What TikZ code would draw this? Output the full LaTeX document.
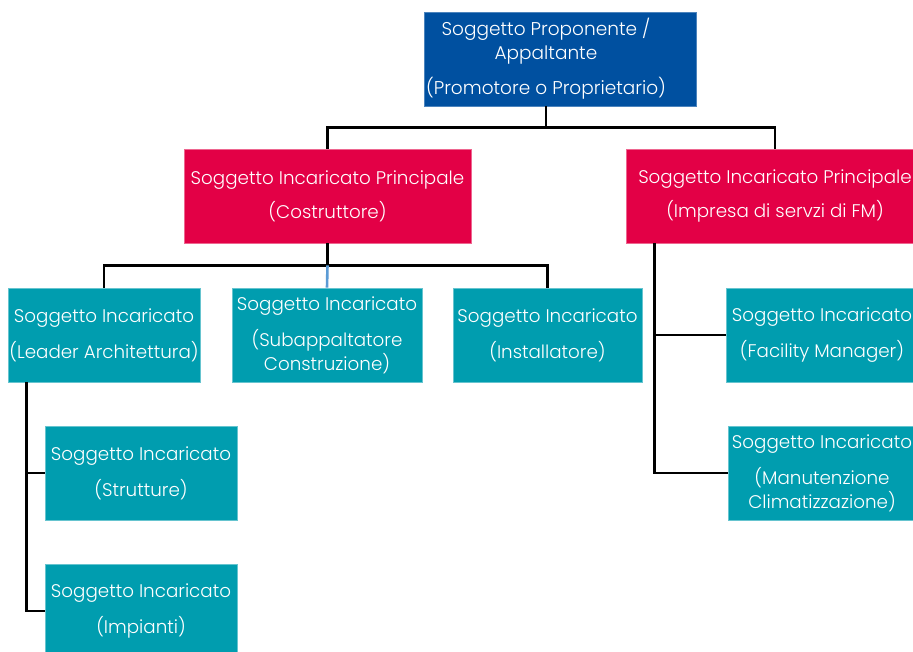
\documentclass[tikz,border=0pt]{standalone}
\usepackage{fontspec}
\setmainfont{Poppins}[UprightFont={* Light}]
\definecolor{topblue}{HTML}{0050A0}
\definecolor{mainred}{HTML}{E30046}
\definecolor{subteal}{HTML}{009DAF}
\definecolor{midblue}{HTML}{5B9BD5}
\begin{document}
\begin{tikzpicture}[x=1pt,y=-1pt,
  box/.style={rectangle, text=white, align=center, inner sep=0pt,
    font=\fontsize{18.3}{24}\selectfont, line width=0.6pt},
  topbox/.style={box, fill=topblue, draw=topblue!70!white, minimum width=272pt, minimum height=94pt},
  toptext/.style={box, font=\fontsize{18.5}{24}\selectfont},
  redbox/.style={box, fill=mainred, draw=mainred!60!white, minimum height=94pt},
  tealbox/.style={box, fill=subteal, draw=subteal!60!white, minimum width=192pt, minimum height=94pt},
  conn/.style={line width=2.6pt, black},
  connblue/.style={line width=2.6pt, midblue}]
\clip (0,0) rectangle (913,651);
\fill[white] (0,0) rectangle (913,651);

\node[topbox] (top) at (560,59) {};
\node[toptext] (toplabel) at (546,59) {Soggetto Proponente /\\Appaltante\\[11pt](Promotore o Proprietario)};

\node[redbox, minimum width=287pt] (r1) at (327.5,196) {Soggetto Incaricato Principale\\[10pt](Costruttore)};
\node[redbox, minimum width=298pt] (r2) at (775,196) {Soggetto Incaricato Principale\\[10pt](Impresa di servzi di FM)};

\node[tealbox] (a) at (104,335) {Soggetto Incaricato\\[12pt](Leader Architettura)};
\node[tealbox, minimum width=190pt] (b) at (327,335) {Soggetto Incaricato\\[12pt](Subappaltatore\\Construzione)};
\node[tealbox, minimum width=189pt] (c) at (547.5,335) {Soggetto Incaricato\\[12pt](Installatore)};

\node[tealbox] (d) at (141,473) {Soggetto Incaricato\\[12pt](Strutture)};
\node[tealbox] (e) at (141,611) {Soggetto Incaricato\\[12pt](Impianti)};

\node[tealbox] (f) at (822,335) {Soggetto Incaricato\\[12pt](Facility Manager)};
\node[tealbox, minimum width=188pt] (g) at (822,473) {Soggetto Incaricato\\[12pt](Manutenzione\\Climatizzazione)};

% top connectors
\coordinate (t0) at (top.south -| toplabel.center);
\coordinate (j0) at ([yshift=-21pt]t0);
\draw[conn] (t0) -- (j0);
\draw[conn] (r1.north) |- (j0) -| (r2.north);

% costruttore connectors
\coordinate (j1) at ([yshift=-22pt]r1.south);
\draw[conn] (r1.south) -- (j1);
\draw[conn] (a.north) |- (j1) -| (c.north);
\draw[connblue] (j1) -- (b.north);

% leader branch
\coordinate (la) at ([xshift=19pt]a.south west);
\draw[conn] (la) |- (d.west);
\draw[conn] (la) |- (e.west);

% FM branch
\coordinate (lb) at ([xshift=29pt]r2.south west);
\draw[conn] (lb) |- (f.west);
\draw[conn] (lb) |- (g.west);
\end{tikzpicture}
\end{document}
